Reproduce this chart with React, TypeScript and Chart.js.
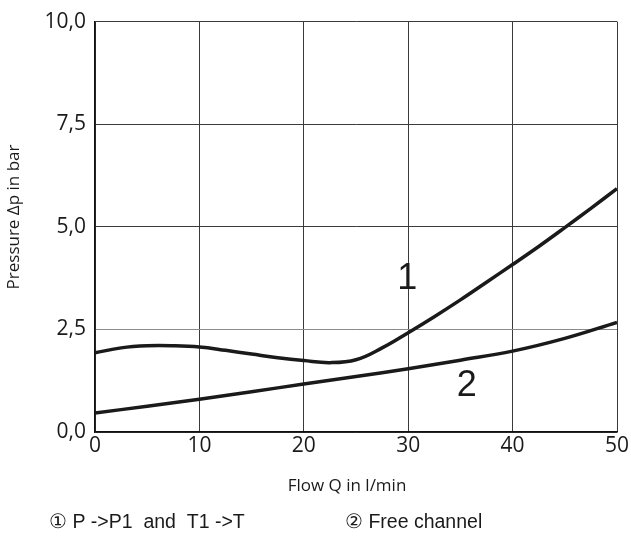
import React, { useEffect, useRef } from "react";
import { Chart, registerables } from "chart.js";

Chart.register(...registerables);

const flowQ1 = [0, 2.5, 5, 7.5, 10, 12.5, 15, 17.5, 20, 22.5, 25, 27.5, 30, 32.5, 35, 37.5, 40, 42.5, 45, 47.5, 50];
const pressure1 = [1.93, 2.05, 2.1, 2.1, 2.07, 1.99, 1.9, 1.81, 1.74, 1.69, 1.76, 2.05, 2.42, 2.81, 3.22, 3.65, 4.08, 4.52, 4.98, 5.45, 5.93];
const flowQ2 = [0, 5, 10, 15, 20, 25, 30, 35, 40, 45, 50];
const pressure2 = [0.46, 0.63, 0.8, 0.98, 1.17, 1.35, 1.54, 1.75, 1.97, 2.28, 2.67];

const curveLabels = [
  { text: "1", q: 29.9, p: 3.73 },
  { text: "2", q: 35.6, p: 1.13 },
];
const legendItems = ["① P ->P1  and  T1 ->T", "② Free channel"];
const xTitle = "Flow Q in l/min";
const yTitle = "Pressure Δp in bar";

const narrow = "'Liberation Sans Narrow', 'Liberation Sans', Arial, sans-serif";
const tickFamily = "'Open Sans', 'Noto Sans', sans-serif";

export default function App() {
  const ref = useRef<HTMLCanvasElement | null>(null);

  useEffect(() => {
    if (!ref.current) return;
    const labelPlugin = {
      id: "extraText",
      afterDraw(chart: any) {
        const ctx = chart.ctx;
        const xs = chart.scales.x;
        const ys = chart.scales.y;
        ctx.save();
        ctx.fillStyle = "#1a1a1a";
        ctx.textAlign = "center";
        ctx.textBaseline = "middle";
        ctx.font = `36px ${narrow}`;
        curveLabels.forEach((l) => {
          ctx.fillText(l.text, xs.getPixelForValue(l.q), ys.getPixelForValue(l.p));
        });
        // axis titles
        ctx.font = `17px ${tickFamily}`;
        ctx.fillText(xTitle, 347, 486);
        ctx.save();
        ctx.translate(14, 217);
        ctx.rotate(-Math.PI / 2);
        ctx.fillText(yTitle, 0, 0);
        ctx.restore();
        // legend
        ctx.textAlign = "left";
        ctx.font = `19.5px ${narrow}`;
        ctx.fillText(legendItems[0], 49, 523);
        ctx.fillText(legendItems[1], 345, 523);
        ctx.restore();
      },
    };

    const chart = new Chart(ref.current, {
      type: "line",
      data: {
        datasets: [
          {
            label: "1",
            data: flowQ1.map((q, i) => ({ x: q, y: pressure1[i] })),
            borderColor: "#1a1a1a",
            borderWidth: 3.5,
            pointRadius: 0,
            tension: 0.4,
            fill: false,
          },
          {
            label: "2",
            data: flowQ2.map((q, i) => ({ x: q, y: pressure2[i] })),
            borderColor: "#1a1a1a",
            borderWidth: 3.5,
            pointRadius: 0,
            tension: 0.4,
            fill: false,
          },
        ],
      },
      options: {
        responsive: false,
        animation: false,
        layout: { padding: { top: 18, right: 14, left: 0, bottom: 0 } },
        plugins: { legend: { display: false }, tooltip: { enabled: false } },
        scales: {
          x: {
            type: "linear",
            min: 0,
            max: 50,
            afterFit: (s: any) => {
              s.height = 105;
            },
            ticks: {
              stepSize: 10,
              padding: 1,
              color: "#1a1a1a",
              font: { family: tickFamily, size: 21 },
            },
            grid: {
              drawTicks: false,
              color: "#3a3a3a",
              lineWidth: 1,
            },
            border: { display: true, color: "#111", width: 1.5 },
          },
          y: {
            min: 0,
            max: 10,
            afterFit: (s: any) => {
              s.width = 95;
            },
            ticks: {
              stepSize: 2.5,
              padding: 9,
              color: "#1a1a1a",
              font: { family: tickFamily, size: 21 },
              callback: (v: any) => Number(v).toFixed(1).replace(".", ","),
            },
            grid: {
              drawTicks: false,
              color: (c: any) => (c.tick && c.tick.value === 2.5 ? "#8a8a8a" : "#3a3a3a"),
              lineWidth: 1,
            },
            border: { display: true, color: "#111", width: 1.5 },
          },
        },
      },
      plugins: [labelPlugin],
    });
    return () => chart.destroy();
  }, []);

  return (
    <div style={{ position: "absolute", left: 0, top: 0, width: 631, height: 537, background: "#fff" }}>
      <canvas ref={ref} width={631} height={537} />
    </div>
  );
}
